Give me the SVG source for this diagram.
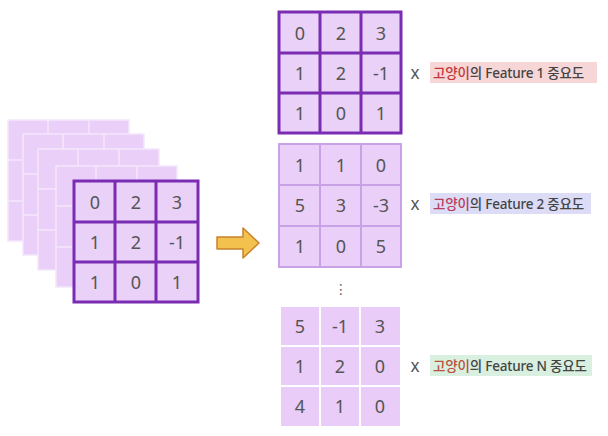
<svg xmlns="http://www.w3.org/2000/svg" width="608" height="436" viewBox="0 0 608 436">
<style>
.num{font-family:"Noto Sans","DejaVu Sans",sans-serif;font-size:18px;fill:#555;text-anchor:middle;dominant-baseline:central}
.lbl{font-family:"Noto Sans","Noto Sans CJK KR",sans-serif;font-size:13.5px;font-weight:500;fill:#444;dominant-baseline:central;letter-spacing:-0.2px}
.x{font-family:"Noto Sans","DejaVu Sans",sans-serif;font-size:14px;font-weight:500;fill:#555;text-anchor:middle;dominant-baseline:central}
.layer{fill:#eacff8;stroke:#f4e7fb;stroke-width:1.5}
.lgrid{stroke:#f4e7fb;stroke-width:1.5}
.dark{fill:#e9d1f7;stroke:#7a2db3;stroke-width:3}
.dline{stroke:#7a2db3;stroke-width:3}
.mid{fill:#eacff8;stroke:#c9a1e6;stroke-width:2}
.mline{stroke:#c9a1e6;stroke-width:2}
.cell{fill:#e9ccf8}
</style>
<rect width="608" height="436" fill="#fff"/>
<g id="stack">
  <g id="layer1"><rect class="layer" x="8" y="120" width="121" height="121"/><path class="lgrid" d="M48 120V241M89 120V241M8 160H129M8 201H129"/></g>
  <g id="layer2"><rect class="layer" x="23" y="134" width="121" height="121"/><path class="lgrid" d="M63 134V255M104 134V255M23 174H144M23 215H144"/></g>
  <g id="layer3"><rect class="layer" x="38" y="149" width="121" height="121"/><path class="lgrid" d="M78 149V270M119 149V270M38 189H159M38 230H159"/></g>
  <g id="layer4"><rect class="layer" x="56" y="166" width="121" height="121"/><path class="lgrid" d="M96 166V287M137 166V287M56 206H177M56 247H177"/></g>
</g>
<g id="input">
  <rect class="dark" x="74" y="181" width="124" height="121"/>
  <path class="dline" d="M115 181V302M156 181V302M74 222H198M74 262H198"/>
  <text class="num" x="95" y="202">0</text><text class="num" x="136" y="202">2</text><text class="num" x="177" y="202">3</text>
  <text class="num" x="95" y="242">1</text><text class="num" x="136" y="242">2</text><text class="num" x="177" y="242">-1</text>
  <text class="num" x="95" y="282">1</text><text class="num" x="136" y="282">0</text><text class="num" x="177" y="282">1</text>
</g>
<g id="connectors">
  <path d="M217 237H243V228L259 243L243 258V249H217Z" fill="#f2c14e" stroke="#c8822c" stroke-width="1.5" stroke-linejoin="round"/>
</g>
<g id="feature1">
  <rect class="dark" x="279" y="12" width="122" height="121"/>
  <path class="dline" d="M320 12V133M361 12V133M279 53H401M279 93H401"/>
  <text class="num" x="300" y="33">0</text><text class="num" x="341" y="33">2</text><text class="num" x="381" y="33">3</text>
  <text class="num" x="300" y="73">1</text><text class="num" x="341" y="73">2</text><text class="num" x="381" y="73">-1</text>
  <text class="num" x="300" y="113">1</text><text class="num" x="341" y="113">0</text><text class="num" x="381" y="113">1</text>
</g>
<g id="feature2">
  <rect class="mid" x="279" y="144" width="122" height="123"/>
  <path class="mline" d="M320 144V267M361 144V267M279 185H401M279 226H401"/>
  <text class="num" x="300" y="165">1</text><text class="num" x="341" y="165">1</text><text class="num" x="381" y="165">0</text>
  <text class="num" x="300" y="205">5</text><text class="num" x="341" y="205">3</text><text class="num" x="381" y="205">-3</text>
  <text class="num" x="300" y="246">1</text><text class="num" x="341" y="246">0</text><text class="num" x="381" y="246">5</text>
</g>
<text id="dots" x="341" y="289" style="font-family:'DejaVu Sans',sans-serif;font-size:14px;fill:#666;text-anchor:middle;dominant-baseline:central">⋮</text>
<g id="featureN">
  <rect class="cell" x="281" y="307" width="38" height="38"/><rect class="cell" x="321" y="307" width="38" height="38"/><rect class="cell" x="361" y="307" width="39" height="38"/>
  <rect class="cell" x="281" y="347" width="38" height="38"/><rect class="cell" x="321" y="347" width="38" height="38"/><rect class="cell" x="361" y="347" width="39" height="38"/>
  <rect class="cell" x="281" y="387" width="38" height="39"/><rect class="cell" x="321" y="387" width="38" height="39"/><rect class="cell" x="361" y="387" width="39" height="39"/>
  <text class="num" x="300" y="326">5</text><text class="num" x="340" y="326">-1</text><text class="num" x="380" y="326">3</text>
  <text class="num" x="300" y="366">1</text><text class="num" x="340" y="366">2</text><text class="num" x="380" y="366">0</text>
  <text class="num" x="300" y="406">4</text><text class="num" x="340" y="406">1</text><text class="num" x="380" y="406">0</text>
</g>
<g id="label1">
  <text class="x" x="415" y="73">X</text>
  <rect x="430" y="62" width="167" height="21" fill="#f6d6d6"/>
  <text class="lbl" x="433" y="73"><tspan fill="#c0393b">고양이</tspan>의 Feature 1 중요도</text>
</g>
<g id="label2">
  <text class="x" x="415" y="204">X</text>
  <rect x="430" y="193" width="161" height="21" fill="#dcdcf6"/>
  <text class="lbl" x="433" y="204"><tspan fill="#b83c5c">고양이</tspan>의 Feature 2 중요도</text>
</g>
<g id="label3">
  <text class="x" x="415" y="366">X</text>
  <rect x="430" y="355" width="162" height="21" fill="#d9efe0"/>
  <text class="lbl" x="433" y="366"><tspan fill="#b8513e">고양이</tspan>의 Feature N 중요도</text>
</g>
</svg>
